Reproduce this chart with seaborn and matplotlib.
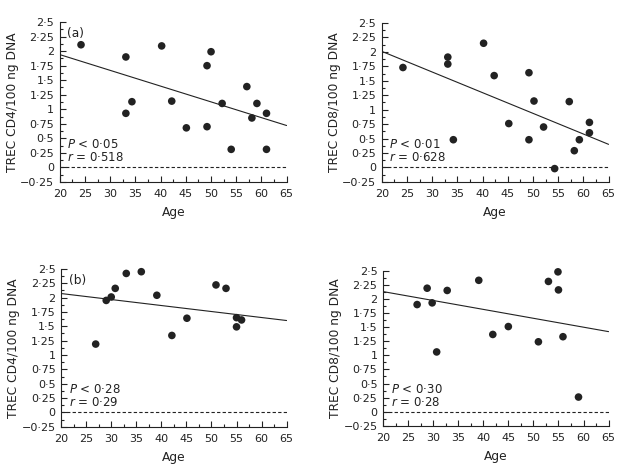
import numpy as np
import pandas as pd
import seaborn as sns
import matplotlib
matplotlib.use("Agg")
import matplotlib.pyplot as plt
from matplotlib.ticker import MultipleLocator, FuncFormatter

# --- data ---
age_cd4_a = [24.2, 33.1, 33.1, 34.3, 40.2, 42.2, 45.1, 49.2, 49.2, 50.0, 52.2, 54.0, 57.1, 58.1, 59.1, 61.0, 61.0]
trec_cd4_a = [2.11, 1.90, 0.93, 1.13, 2.09, 1.14, 0.68, 1.75, 0.70, 1.99, 1.10, 0.31, 1.39, 0.85, 1.10, 0.93, 0.31]

age_cd8_a = [24.2, 33.1, 33.1, 34.2, 40.2, 42.3, 45.2, 49.2, 49.2, 50.2, 52.1, 54.3, 57.2, 58.2, 59.2, 61.2, 61.2]
trec_cd8_a = [1.73, 1.91, 1.79, 0.48, 2.15, 1.59, 0.76, 1.64, 0.48, 1.15, 0.70, -0.02, 1.14, 0.29, 0.48, 0.78, 0.60]

age_cd4_b = [26.9, 29.0, 30.0, 30.8, 33.0, 36.0, 39.1, 42.1, 45.1, 50.9, 52.9, 55.0, 55.0, 56.0]
trec_cd4_b = [1.19, 1.95, 2.01, 2.16, 2.42, 2.45, 2.04, 1.34, 1.64, 2.22, 2.16, 1.65, 1.49, 1.61]

age_cd8_b = [26.8, 28.8, 29.8, 30.7, 32.8, 39.1, 41.9, 45.0, 51.0, 53.0, 54.9, 55.0, 55.9, 59.0]
trec_cd8_b = [1.90, 2.19, 1.93, 1.06, 2.15, 2.33, 1.37, 1.51, 1.24, 2.31, 2.48, 2.16, 1.33, 0.26]

# regression line end points at age 20 and 65
fit_age = [20, 65]
fit_cd4_a = [1.94, 0.72]
fit_cd8_a = [2.01, 0.40]
fit_cd4_b = [2.07, 1.60]
fit_cd8_b = [2.13, 1.42]

panels = [
    (age_cd4_a, trec_cd4_a, fit_cd4_a, "TREC CD4/100 ng DNA", "0·05", "0·518", "(a)"),
    (age_cd8_a, trec_cd8_a, fit_cd8_a, "TREC CD8/100 ng DNA", "0·01", "0·628", None),
    (age_cd4_b, trec_cd4_b, fit_cd4_b, "TREC CD4/100 ng DNA", "0·28", "0·29", "(b)"),
    (age_cd8_b, trec_cd8_b, fit_cd8_b, "TREC CD8/100 ng DNA", "0·30", "0·28", None),
]

sns.set_style("ticks")
plt.rcParams["font.family"] = ["DejaVu Sans"]
plt.rcParams["mathtext.fontset"] = "dejavusans"

ink = "#222222"


def fmt(v, pos):
    s = "{:g}".format(round(v, 2))
    return s.replace(".", "·").replace("-", "−")


fig = plt.figure(figsize=(6.3, 4.7), dpi=100)
boxes = [
    [0.095, 0.613, 0.360, 0.340],
    [0.606, 0.613, 0.360, 0.338],
    [0.097, 0.092, 0.358, 0.336],
    [0.608, 0.094, 0.358, 0.330],
]

for box, (ages, vals, fit, ylab, p, r, tag) in zip(boxes, panels):
    ax = fig.add_axes(box)
    df = pd.DataFrame({"Age": ages, "TREC": vals})
    sns.scatterplot(data=df, x="Age", y="TREC", ax=ax, color=ink,
                    s=30, edgecolor="none", linewidth=0, zorder=3, clip_on=False)
    sns.lineplot(x=fit_age, y=fit, ax=ax, color=ink, linewidth=0.8)
    ax.axhline(0, color=ink, linestyle=(0, (3, 2)), linewidth=0.8)

    ax.set_xlim(20, 65)
    ax.set_ylim(-0.25, 2.5)
    ax.xaxis.set_major_locator(MultipleLocator(5))
    ax.xaxis.set_minor_locator(MultipleLocator(2.5))
    ax.yaxis.set_major_locator(MultipleLocator(0.25))
    ax.yaxis.set_minor_locator(MultipleLocator(0.125))
    ax.xaxis.set_major_formatter(FuncFormatter(fmt))
    ax.yaxis.set_major_formatter(FuncFormatter(fmt))
    ax.tick_params(which="both", direction="in", width=0.8, color=ink,
                   labelsize=8, labelcolor=ink)
    ax.tick_params(axis="x", pad=5)
    ax.tick_params(axis="y", pad=4)
    ax.tick_params(which="major", length=4)
    ax.tick_params(which="minor", length=2.5)
    sns.despine(ax=ax)
    for sp in ("left", "bottom"):
        ax.spines[sp].set_linewidth(0.8)
        ax.spines[sp].set_color(ink)

    ax.set_ylabel(ylab, fontsize=8.8, color=ink, labelpad=1)
    ax.set_xlabel("Age", fontsize=8.8, color=ink, labelpad=5)

    ax.text(21.5, 0.34, r"$P$ < " + p, fontsize=8.5, color=ink)
    ax.text(21.5, 0.11, r"$r$ = " + r, fontsize=8.5, color=ink)
    if tag:
        ax.text(21.5, 2.24, tag, fontsize=8.8, color=ink)

fig.savefig("out.png", dpi=100)
